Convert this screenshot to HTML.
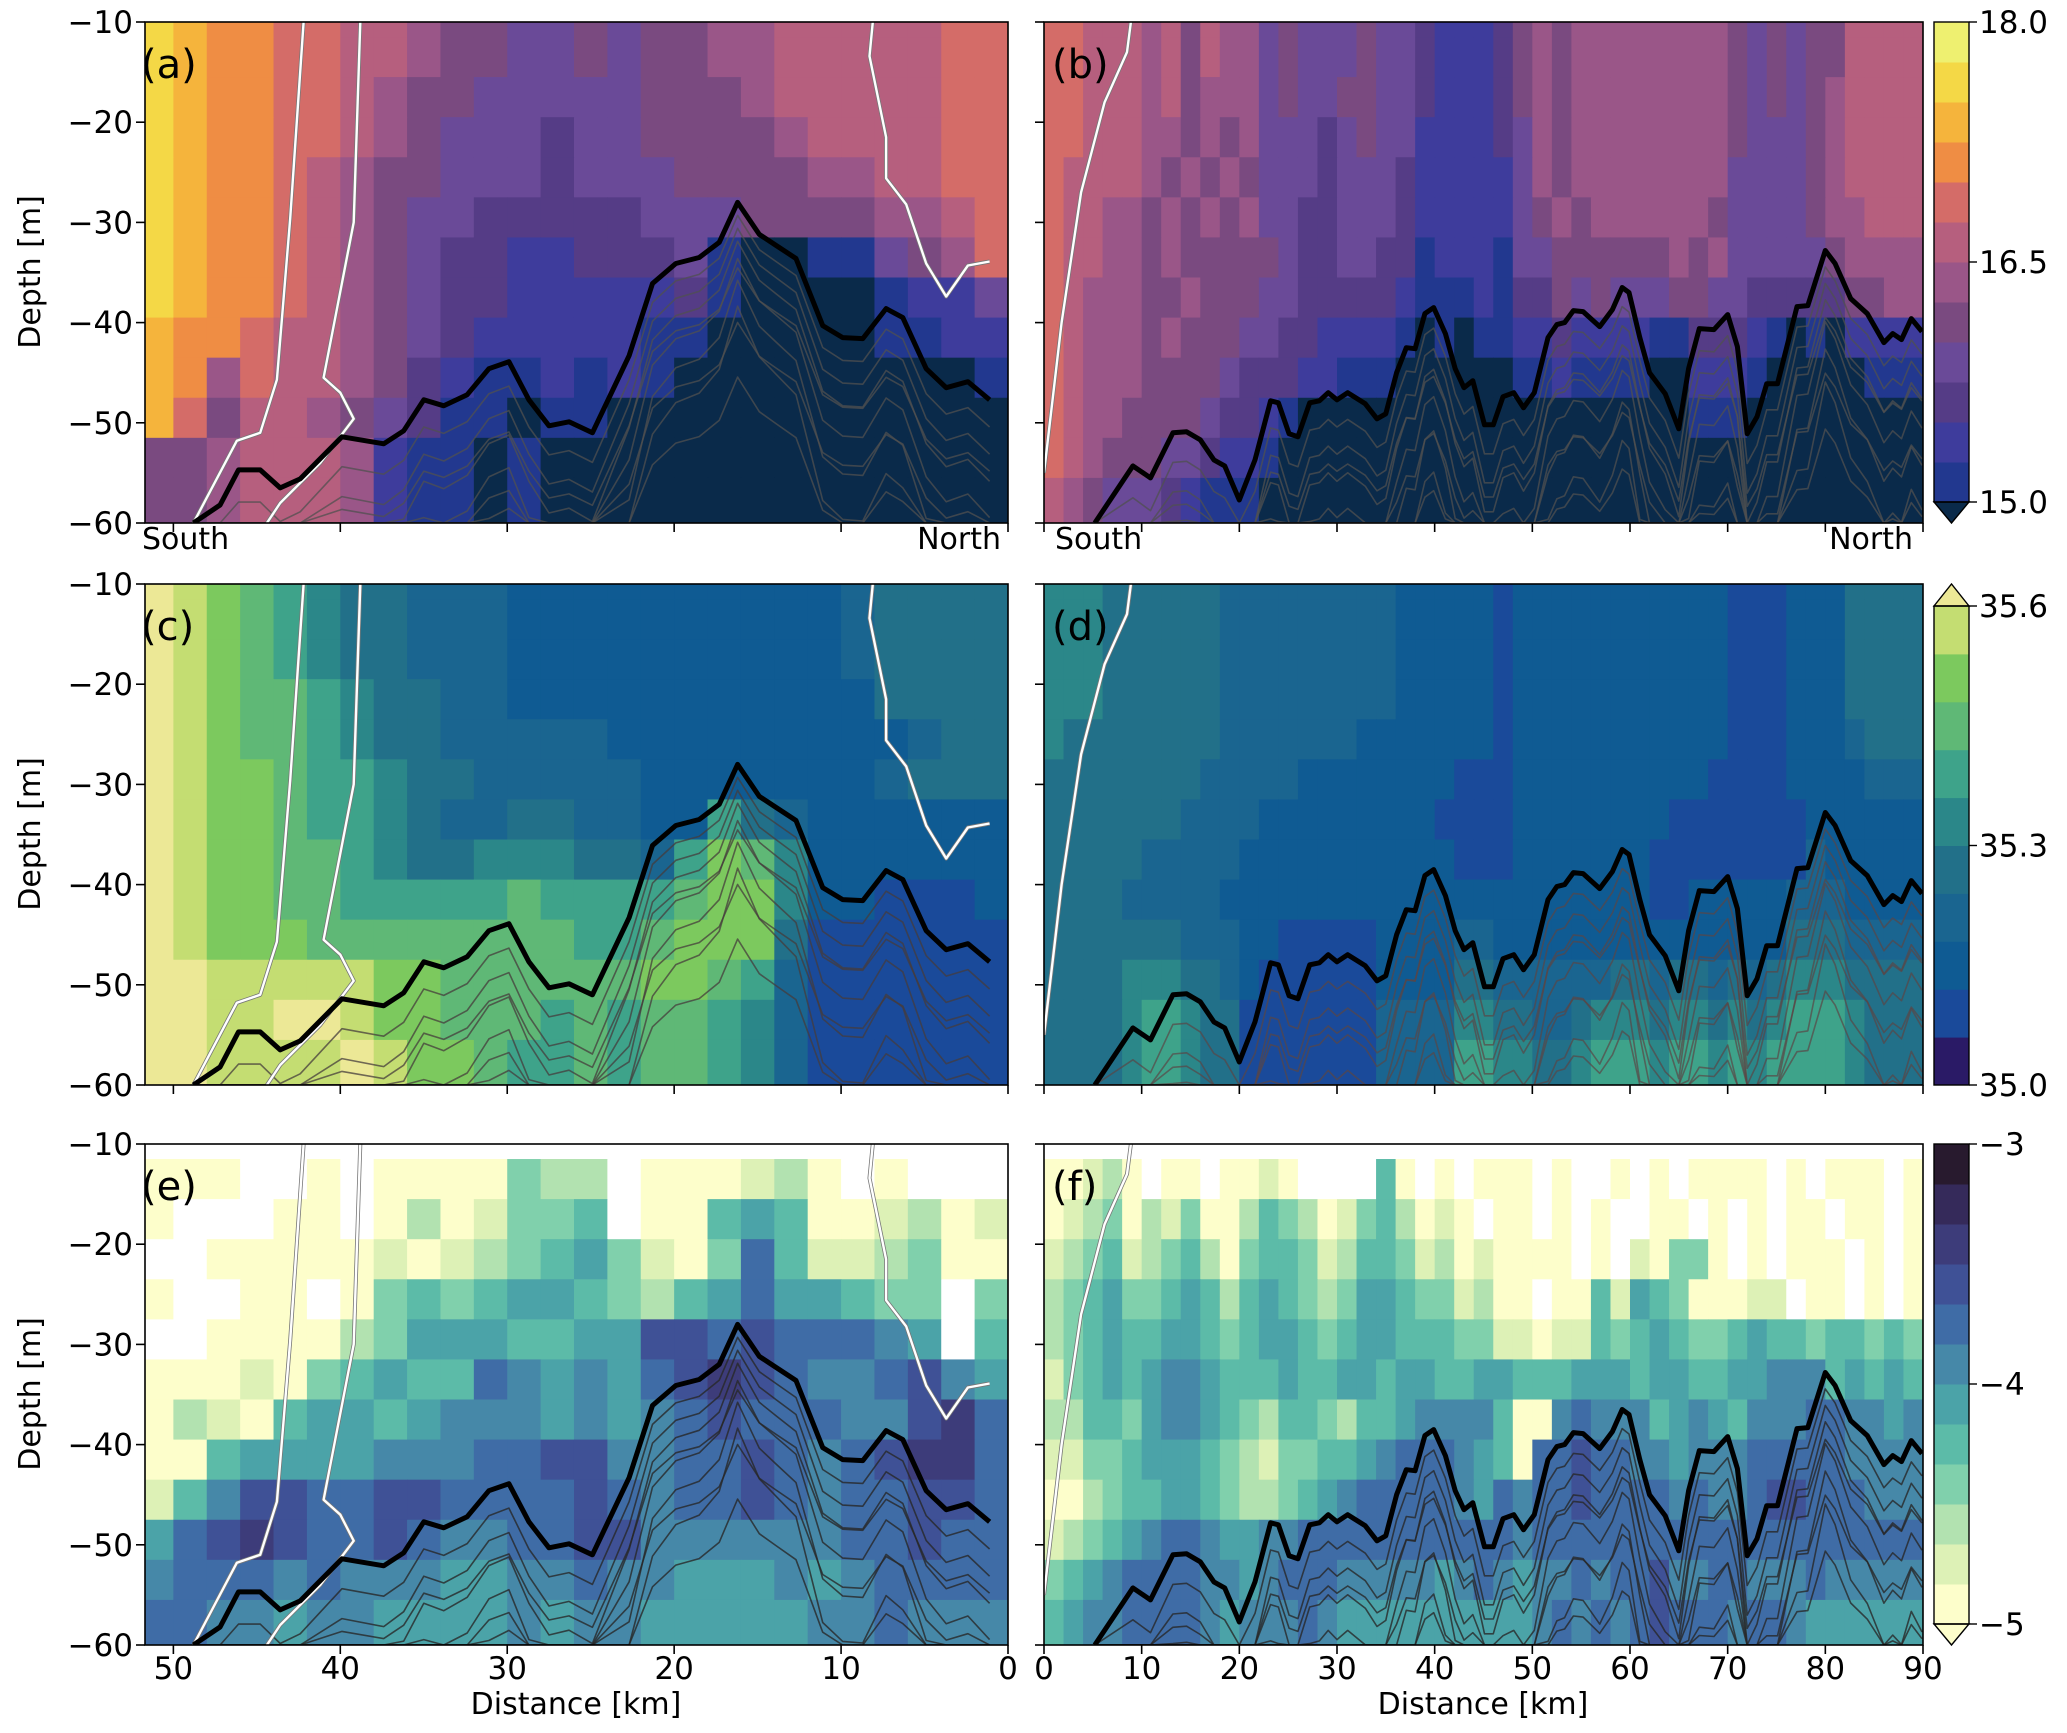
<!DOCTYPE html>
<html><head><meta charset="utf-8"><style>
html,body{margin:0;padding:0;background:#fff;width:2067px;height:1733px;overflow:hidden;}
svg{display:block;font-family:"DejaVu Sans","Liberation Sans",sans-serif;}
</style></head><body>
<svg id="fig" width="2067" height="1733" viewBox="0 0 2067 1733" xmlns="http://www.w3.org/2000/svg" overflow="hidden">
<defs>
<clipPath id="clipL0"><rect x="145" y="22" width="863" height="501"/></clipPath>
<clipPath id="clipR0"><rect x="1044" y="22" width="879" height="501"/></clipPath>
<clipPath id="clipL1"><rect x="145" y="584" width="863" height="501"/></clipPath>
<clipPath id="clipR1"><rect x="1044" y="584" width="879" height="501"/></clipPath>
<clipPath id="clipL2"><rect x="145" y="1144" width="863" height="501"/></clipPath>
<clipPath id="clipR2"><rect x="1044" y="1144" width="879" height="501"/></clipPath>
</defs>
<g id="layer"></g>
<text x="576" y="1714" font-size="30" text-anchor="middle">Distance [km]</text>
<text x="1483" y="1714" font-size="30" text-anchor="middle">Distance [km]</text>
<text transform="translate(40,272) rotate(-90)" font-size="30" text-anchor="middle">Depth [m]</text>
<text transform="translate(40,834) rotate(-90)" font-size="30" text-anchor="middle">Depth [m]</text>
<text transform="translate(40,1394) rotate(-90)" font-size="30" text-anchor="middle">Depth [m]</text>
<text x="142" y="549" font-size="30">South</text>
<text x="1001" y="549" font-size="30" text-anchor="end">North</text>
<text x="1055" y="549" font-size="30">South</text>
<text x="1913" y="549" font-size="30" text-anchor="end">North</text>
</svg>
<script>
// ---------- data ----------
const depthEdges=[-10,-11.5,-15.5,-19.5,-23.5,-27.5,-31.5,-35.5,-39.5,-43.5,-47.5,-51.5,-55.5,-60];
const yTicks=[-10,-20,-30,-40,-50,-60];
const xTicksLeft=[50,40,30,20,10,0];
const xTicksRight=[0,10,20,30,40,50,60,70,80,90];
const tempCb=["15.0","16.5","18.0"];
const salCb=["35.0","35.3","35.6"];
const deepCb=["\u22125","\u22124","\u22123"];

const tempA=["ba998877655445455667777788","ba998877655445455667777788","ba998876554444455567777788","ba998876544434455556777788","ba998765544434445555667788","ba998765443333344455556678","ba998765433223334100114568","ba998765433222223100001224","a9987765432222211000001122","a9687765321121210000000001","a8577654311011000000000000","5567776211010000000000000","5567776211010000000000000"];
const tempB=["88777675766454445443222356566666666545455777","88777675766454445443222356566666666545455777","88777675666454455443222356566666666545456777","88777665656444345442222346566666666544456777","87777656565444344432222246566666666444456777","87766565656443344432222245656666665444456677","87766565555543344331222144555555656444445666","87666556555443333321112133545444554433333556","87666565554433222210101122322221133321010222","87666555543332211100000011211110022210000011","87665555433210000000000000000000011100000000","87655544322100000000000000000000000000000000","76544432111000000000000000000000000000000000"];
const salC=["a9876544333222222222234444","a9876544333222222222234444","a9876544333222222222234444","a9877654433222222222224444","a9877654433333222222222344","a9887665443333322222223444","a9887665433443322643222222","a9887765445554436875222222","a9887766666766667885221112","a9888777777776678884111111","aa999998877777788763111111","aa99aa98877767677653111111","aa9999a9887667677653111111"];
const salD=["555444444333333333222221222222222221112224444","555444444333333333222221222222222221112224444","555444444333333333222221222222222221112224444","555444444333333333222221222222222221112224444","544444444333333322222221222222222221112223444","444444443333322222222111222222222211112222333","444444433332222222221111222222221111111222222","444443333322222222222111222222211111111322222","444433333222222222222222222222211222223332222","444444433322111112222332222222222222224443333","444455544321111112222443333334434434345554444","444456654411111113333554433455545545456665444","444456654411111113333665544566656656566665444"];
const deepE=["wwwwwwwwwwwwwwwwwwwwwwwwww","000ww0w0000322w000120w0www","0www00w0201334w00454001201","ww000001012345310374112300","0ww00w034345543245755433w3","ww0000235554455887877765w4","00010345447656578987667865","02104554566656567877766897","00455556667788667787678997","14688778877778767787677887","57898778766778866666677877","67776766655667665556567777","77665665555656655555667666"];
const deepF=["wwwwwwwwwwwwwwwwwwwwwwwwwwwwwwwwwwwwwwwwwwwww","00120w00w0010wwww40w0w000w0ww0w0w0000w0w000w00","0123021300243201342010w00w0w0ww00w0w0w00w00w0","123412342034431244312010000w0w10330w0w000w0w0","2345334542454323554331200w004154300011w00w0w00","234544554345543455444331101143454334544344343","134545665444544554554455444555455445566645454","224435665432443244566664006766645654666776656","113345554321334456777654077877665666777776666","002344554322345677777657677877776766788777666","123456776556677777777777677777777777777777777","345677776656777666665676566767786677666766666","456677776566676555555555567676787776776555555"];

// black isopycnal (km, depth)
const isoLeftKm=[48.8,47.2,46.1,44.8,43.6,42.4,39.9,37.4,36.2,35.0,33.8,32.4,31.1,29.9,28.7,27.5,26.3,24.9,22.7,21.3,19.9,18.5,17.3,16.2,14.9,13.9,12.7,11.1,9.9,8.7,7.3,6.3,4.9,3.7,2.4,1.1];
const isoLeftD=[-60.0,-58.2,-54.7,-54.7,-56.5,-55.6,-51.4,-52.1,-50.8,-47.7,-48.3,-47.2,-44.6,-43.9,-47.7,-50.3,-49.9,-51.0,-43.3,-36.1,-34.1,-33.5,-32.0,-28.0,-31.2,-32.3,-33.6,-40.3,-41.5,-41.6,-38.6,-39.5,-44.6,-46.5,-45.9,-47.7];
const isoRightKm=[5.2,9.1,10.9,13.2,14.6,16.0,17.4,18.5,20.0,21.6,23.2,24.0,25.1,26.0,27.2,28.2,29.1,30.0,31.1,32.9,34.1,35.0,36.1,37.1,38.0,39.0,39.9,41.1,42.1,43.0,43.9,45.1,46.0,47.0,48.1,49.1,50.2,51.6,52.5,53.3,54.2,55.2,56.9,58.2,59.2,59.9,61.0,62.0,63.6,65.0,66.0,67.1,68.6,70.0,71.0,72.0,73.0,74.0,75.1,77.1,78.2,80.0,81.0,82.6,84.3,86.0,86.9,87.8,88.8,89.9];
const isoRightD=[-60,-54.3,-55.5,-51.0,-50.9,-51.7,-53.7,-54.3,-57.7,-53.7,-47.8,-48.0,-51.1,-51.4,-48.0,-47.8,-47.0,-47.7,-47.0,-48.1,-49.6,-49.1,-45.0,-42.5,-42.6,-39.1,-38.5,-41.1,-44.6,-46.5,-45.8,-50.2,-50.2,-47.4,-47.0,-48.5,-47.0,-41.5,-40.2,-40.0,-38.8,-38.9,-40.4,-38.7,-36.5,-37.0,-41.5,-45.0,-47.1,-50.6,-44.6,-40.6,-40.7,-39.2,-42.4,-51.1,-49.4,-46.1,-46.1,-38.4,-38.3,-32.8,-34.1,-37.6,-39.1,-42.0,-41.1,-41.7,-39.6,-40.9];
const contourOffsets=[-16,-11,-6,3,6,9,13,18,24];
const whiteL1Km=[42.2,43.0,43.8,44.8,46.2,48.8];
const whiteL1D=[-10,-29.6,-45.7,-51.0,-51.8,-60];
const whiteL2Km=[38.8,39.2,41.0,40.0,39.2,41.2,43.6,44.4];
const whiteL2D=[-10,-30,-45.5,-47,-49.6,-54,-58,-60];
const whiteL3Km=[8.1,8.3,7.3,7.3,6.1,4.9,3.7,2.4,1.1];
const whiteL3D=[-10,-13.4,-21.5,-25.6,-28.2,-34.1,-37.4,-34.3,-33.9];
const whiteRKm=[8.9,8.5,6.2,3.8,1.8,0];
const whiteRD=[-10,-13,-18,-27,-40,-55];

// ---------- styles ----------
const tempPal={'0':'#0a2a4a','1':'#22388f','2':'#3e3c9c','3':'#553c86','4':'#6a4a98','5':'#7a4a80','6':'#9a5688','7':'#b65f7e','8':'#d46c68','9':'#ef8d44','a':'#f5b43c','b':'#f4d846','c':'#eef070'};
const salPal={'0':'#2a1a66','1':'#1a4a9a','2':'#0f5b93','3':'#1a6590','4':'#227089','5':'#2b8789','6':'#3ea38a','7':'#5fb876','8':'#7cc95e','9':'#c4dd72','a':'#ece896'};
const deepPal={'w':'#ffffff','0':'#fdfecb','1':'#ddf1b6','2':'#b2e2b0','3':'#80d0ac','4':'#5cbba8','5':'#4ba3a8','6':'#4688a8','7':'#3f6ca6','8':'#3f5196','9':'#3d3c7a','x':'#352a5a','y':'#281a2e'};
const rowsY=[22,584,1144];
const PH=501, LX=145, LW=863, RX=1044, RW=879, LKM=51.7;
const NS='http://www.w3.org/2000/svg';
const layer=document.getElementById('layer');
function mk(tag,attrs,parent){const e=document.createElementNS(NS,tag);for(const k in attrs)e.setAttribute(k,attrs[k]);(parent||layer).appendChild(e);return e;}
function yScale(row){return d=>rowsY[row]+(-10-Math.max(-60,Math.min(-10,d)))/50*PH;}
function xLeft(km){return LX+(LKM-Math.min(LKM,km))/LKM*LW;}
function xRight(km){return RX+Math.min(90,km)/90*RW;}

function heat(rows,pal,side,row,name){
  const g=mk('g',{'clip-path':'url(#clip'+side+row+')'});
  
  
  const ys=yScale(row);
  const nCols=side==='L'?26:45;
  rows.forEach((s,ri)=>{
    let str=s.replace(/ /g,'');
    while(str.length<nCols) str+=str[str.length-1];
    const y0=ys(depthEdges[ri]),y1=ys(depthEdges[ri+1]);
    for(let ci=0;ci<nCols;ci++){
      const c=pal[str[ci]]||pal['0'];
      let xa,xb;
      if(side==='L'){xa=xLeft(52-2*ci);xb=xLeft(50-2*ci);}else{xa=xRight(2*ci);xb=xRight(2*ci+2);}
      const r=mk('rect',{x:Math.min(xa,xb),y:y0,width:Math.abs(xb-xa)+0.5,height:(y1-y0)+0.5,fill:c},g);
      
      
    }
  });
  return g;
}
function line(kms,ds,xs,ys,g,stroke,w,name){
  const pts=kms.map((k,i)=>xs(k).toFixed(1)+','+ys(ds[i]).toFixed(1)).join(' ');
  const p=mk('polyline',{points:pts,fill:'none',stroke:stroke,'stroke-width':w,'stroke-linejoin':'round'},g);
  
  
  return p;
}
function contours(side,row,thinColor){
  const g=mk('g',{'clip-path':'url(#clip'+side+row+')'});
  
  
  const xs=side==='L'?xLeft:xRight, ys=yScale(row);
  const kms=side==='L'?isoLeftKm:isoRightKm, ds=side==='L'?isoLeftD:isoRightD;
  contourOffsets.forEach(o=>{
    const sh=ds.map(d=>o<0?d+o*(1-(-10-d)/-60*0.3):d-o*(( -d-10)/50)*1.2);
    line(kms,sh,xs,ys,g,thinColor,1.6,'thin-isopycnal');
  });
  if(side==='L'){
    line(whiteL1Km,whiteL1D,xs,ys,g,'#777',4,'white-line-edge');
    line(whiteL1Km,whiteL1D,xs,ys,g,'#fff',2.4,'white-contour-1');
    line(whiteL2Km,whiteL2D,xs,ys,g,'#777',4,'white-line-edge');
    line(whiteL2Km,whiteL2D,xs,ys,g,'#fff',2.4,'white-contour-2');
    line(whiteL3Km,whiteL3D,xs,ys,g,'#777',4,'white-line-edge');
    line(whiteL3Km,whiteL3D,xs,ys,g,'#fff',2.4,'white-contour-3');
  } else {
    line(whiteRKm,whiteRD,xs,ys,g,'#777',4,'white-line-edge');
    line(whiteRKm,whiteRD,xs,ys,g,'#fff',2.4,'white-contour-right');
  }
  line(kms,ds,xs,ys,g,'#000',5,'black-isopycnal');
}
function axes(side,row,label){
  const x0=side==='L'?LX:RX, w=side==='L'?LW:RW, y0=rowsY[row], ys=yScale(row);
  const fr=mk('rect',{x:x0,y:y0,width:w,height:PH,fill:'none',stroke:'#000','stroke-width':1.6});
  
  
  yTicks.forEach(t=>{
    const y=ys(t);
    const tk=mk('line',{x1:x0-9,x2:x0,y1:y,y2:y,stroke:'#000','stroke-width':1.6});
    
    
    if(side==='L'){
      const tx=mk('text',{x:x0-12,y:y+11,'font-size':31,'text-anchor':'end'});
      tx.textContent=String(t).replace('-','\u2212');
      
      
    }
  });
  const ticks=side==='L'?xTicksLeft:xTicksRight, xs=side==='L'?xLeft:xRight;
  ticks.forEach(t=>{
    const x=xs(t);
    const tk=mk('line',{x1:x,x2:x,y1:y0+PH,y2:y0+PH+9,stroke:'#000','stroke-width':1.6});
    
    
    if(row===2){
      const tx=mk('text',{x:x,y:y0+PH+34,'font-size':31,'text-anchor':'middle'});
      tx.textContent=String(t);
      
      
    }
  });
  const pl=mk('text',{x:x0-4+(side==='R'?12:0),y:y0+56,'font-size':40});
  pl.textContent='('+label+')';
  
  
}
function colorbar(row,pal,keys,extKey,extDir,labels){
  const cx=1934,cw=35,y0=rowsY[row];
  const g=mk('g',{});
  
  
  let top=y0,bot=y0+PH;
  if(extDir==='down'){bot=y0+PH-21;}else{top=y0+22;}
  const bh=(bot-top)/keys.length;
  keys.forEach((k,i)=>{
    const r=mk('rect',{x:cx,y:bot-(i+1)*bh,width:cw,height:bh+0.5,fill:pal[k]},g);
    
    
  });
  let tri;
  if(extDir==='down') tri=`${cx},${bot} ${cx+cw},${bot} ${cx+cw/2},${y0+PH}`;
  else tri=`${cx},${top} ${cx+cw},${top} ${cx+cw/2},${y0}`;
  const t=mk('polygon',{points:tri,fill:pal[extKey],stroke:'#000','stroke-width':1.4},g);
  
  
  const fr=mk('rect',{x:cx,y:top,width:cw,height:bot-top,fill:'none',stroke:'#000','stroke-width':1.4},g);
  
  
  labels.forEach((l,i)=>{
    const y=bot-(bot-top)*i/(labels.length-1);
    const tk=mk('line',{x1:cx+cw,x2:cx+cw+8,y1:y,y2:y,stroke:'#000','stroke-width':1.4},g);
    
    
    const tx=mk('text',{x:cx+cw+10,y:y+11,'font-size':31},g);
    tx.textContent=l;
    
    
  });
}
heat(tempA,tempPal,'L',0,'temperature-a');
heat(tempB,tempPal,'R',0,'temperature-b');
heat(salC,salPal,'L',1,'salinity-c');
heat(salD,salPal,'R',1,'salinity-d');
heat(deepE,deepPal,'L',2,'variable-e');
heat(deepF,deepPal,'R',2,'variable-f');
contours('L',0,'rgba(80,80,80,0.75)');
contours('R',0,'rgba(80,80,80,0.75)');
contours('L',1,'rgba(70,60,60,0.75)');
contours('R',1,'rgba(90,70,70,0.7)');
contours('L',2,'rgba(40,40,40,0.8)');
contours('R',2,'rgba(40,40,40,0.8)');
axes('L',0,'a');axes('R',0,'b');
axes('L',1,'c');axes('R',1,'d');
axes('L',2,'e');axes('R',2,'f');
colorbar(0,tempPal,['1','2','3','4','5','6','7','8','9','a','b','c'],'0','down',tempCb);
colorbar(1,salPal,['0','1','2','3','4','5','6','7','8','9'],'a','up',salCb);
colorbar(2,deepPal,['0','1','2','3','4','5','6','7','8','9','x','y'],'0','down',deepCb);
</script>
</body></html>
